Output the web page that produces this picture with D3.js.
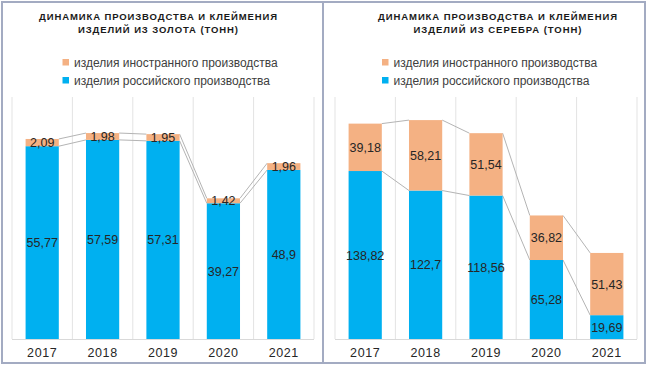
<!DOCTYPE html>
<html>
<head>
<meta charset="utf-8">
<script src="https://d3js.org/d3.v7.min.js"></script>
<style>
  body { margin: 0; background: #fff; }
  text { font-family: Arial, "Liberation Sans", sans-serif; }
</style>
</head>
<body>
<div id="grafico"></div>
<script>
// years and values, tonnes
const years = ["2017", "2018", "2019", "2020", "2021"];
const goldRu = [55.77, 57.59, 57.31, 39.27, 48.9];
const goldForeign = [2.09, 1.98, 1.95, 1.42, 1.96];
const silverRu = [138.82, 122.7, 118.56, 65.28, 19.69];
const silverForeign = [39.18, 58.21, 51.54, 36.82, 51.43];
const seriesNames = ["изделия иностранного производства", "изделия российского производства"];
const goldTitle = ["ДИНАМИКА ПРОИЗВОДСТВА И КЛЕЙМЕНИЯ", "ИЗДЕЛИЙ ИЗ ЗОЛОТА (ТОНН)"];
const silverTitle = ["ДИНАМИКА ПРОИЗВОДСТВА И КЛЕЙМЕНИЯ", "ИЗДЕЛИЙ ИЗ СЕРЕБРА (ТОНН)"];

const ancho = 650, alto = 370;
const azul = "#00b0f0", naranja = "#f4b183";

const svg = d3.select("#grafico").append("svg")
  .attr("width", ancho).attr("height", alto);

// frames
svg.append("rect").attr("x", 2).attr("y", 2).attr("width", 321).attr("height", 361)
  .attr("fill", "none").attr("stroke", "#a3abc2").attr("stroke-width", 2);
svg.append("rect").attr("x", 323).attr("y", 2).attr("width", 322).attr("height", 361)
  .attr("fill", "none").attr("stroke", "#a3abc2").attr("stroke-width", 2);

function fmt(v) { return String(v).replace(".", ","); }

function panel(cfg) {
  const g = svg.append("g");
  const x = d3.scaleBand().domain(years).range([cfg.x0, cfg.x1])
    .paddingInner(0.45).paddingOuter(0.225);
  const y = d3.scaleLinear().domain([0, cfg.max]).range([339, 97]);
  const paso = x.step();
  const inicio = cfg.x0;

  // title
  cfg.title.forEach((t, i) => {
    g.append("text")
      .attr("x", cfg.titleX).attr("y", 19.5 + i * 13)
      .attr("text-anchor", "middle")
      .attr("textLength", cfg.titleW[i]).attr("lengthAdjust", "spacing")
      .style("font-size", "9.5px").style("font-weight", "bold")
      .attr("fill", "#1a1a1a")
      .text(t);
  });

  // legend
  [naranja, azul].forEach((c, i) => {
    const ly = 62.5 + i * 18;
    g.append("rect").attr("x", cfg.legX).attr("y", ly - 3.5)
      .attr("width", 6.5).attr("height", 6.5).attr("fill", c);
    g.append("text").attr("x", cfg.legX + 11.5).attr("y", ly + 4.5)
      .style("font-size", "12px").attr("fill", "#404040")
      .text(seriesNames[i]);
  });

  // vertical category separators
  g.selectAll(".sep").data(d3.range(years.length + 1)).join("line")
    .attr("x1", i => inicio + i * paso).attr("x2", i => inicio + i * paso)
    .attr("y1", 97).attr("y2", 339)
    .attr("stroke", "#e3e3e3").attr("stroke-width", 1);
  g.append("line").attr("x1", cfg.x0).attr("x2", cfg.x1)
    .attr("y1", 339.5).attr("y2", 339.5)
    .attr("stroke", "#d9d9d9");

  const datos = years.map((a, i) => ({ a, ru: cfg.ru[i], fo: cfg.fo[i], tot: cfg.ru[i] + cfg.fo[i] }));

  // series lines
  for (let i = 0; i < datos.length - 1; i++) {
    const d0 = datos[i], d1 = datos[i + 1];
    ["ru", "tot"].forEach(k => {
      g.append("line")
        .attr("x1", x(d0.a) + x.bandwidth()).attr("y1", y(d0[k]))
        .attr("x2", x(d1.a)).attr("y2", y(d1[k]))
        .attr("stroke", "#b4b4b4").attr("stroke-width", 1);
    });
  }

  g.selectAll(".ru").data(datos).join("rect")
    .attr("x", d => x(d.a)).attr("width", x.bandwidth())
    .attr("y", d => y(d.ru)).attr("height", d => y(0) - y(d.ru))
    .attr("fill", azul);
  g.selectAll(".fo").data(datos).join("rect")
    .attr("x", d => x(d.a)).attr("width", x.bandwidth())
    .attr("y", d => y(d.tot)).attr("height", d => y(d.ru) - y(d.tot))
    .attr("fill", naranja);

  // data labels
  g.selectAll(".lru").data(datos).join("text")
    .attr("x", d => x(d.a) + x.bandwidth() / 2)
    .attr("y", d => (y(0) + y(d.ru)) / 2 + 4.5)
    .attr("text-anchor", "middle").style("font-size", "12.5px").attr("fill", "#262626")
    .text(d => fmt(d.ru));
  g.selectAll(".lfo").data(datos).join("text")
    .attr("x", d => x(d.a) + x.bandwidth() / 2)
    .attr("y", d => (y(d.ru) + y(d.tot)) / 2 + 4.5)
    .attr("text-anchor", "middle").style("font-size", "12.5px").attr("fill", "#262626")
    .text(d => fmt(d.fo));

  // x axis
  const eje = g.append("g").attr("transform", "translate(0,339)")
    .call(d3.axisBottom(x).tickSize(0).tickPadding(9));
  eje.select(".domain").remove();
  eje.selectAll("text")
    .style("font-size", "12.5px").style("font-family", "Arial, 'Liberation Sans', sans-serif")
    .style("letter-spacing", "0.6px").attr("fill", "#262626");
}

panel({ x0: 12, x1: 314, max: 70, ru: goldRu, fo: goldForeign,
  title: goldTitle, titleX: 158, titleW: [238, 160], legX: 62.5 });
panel({ x0: 335, x1: 637, max: 200, ru: silverRu, fo: silverForeign,
  title: silverTitle, titleX: 497.5, titleW: [239, 168], legX: 382 });
</script>
</body>
</html>
